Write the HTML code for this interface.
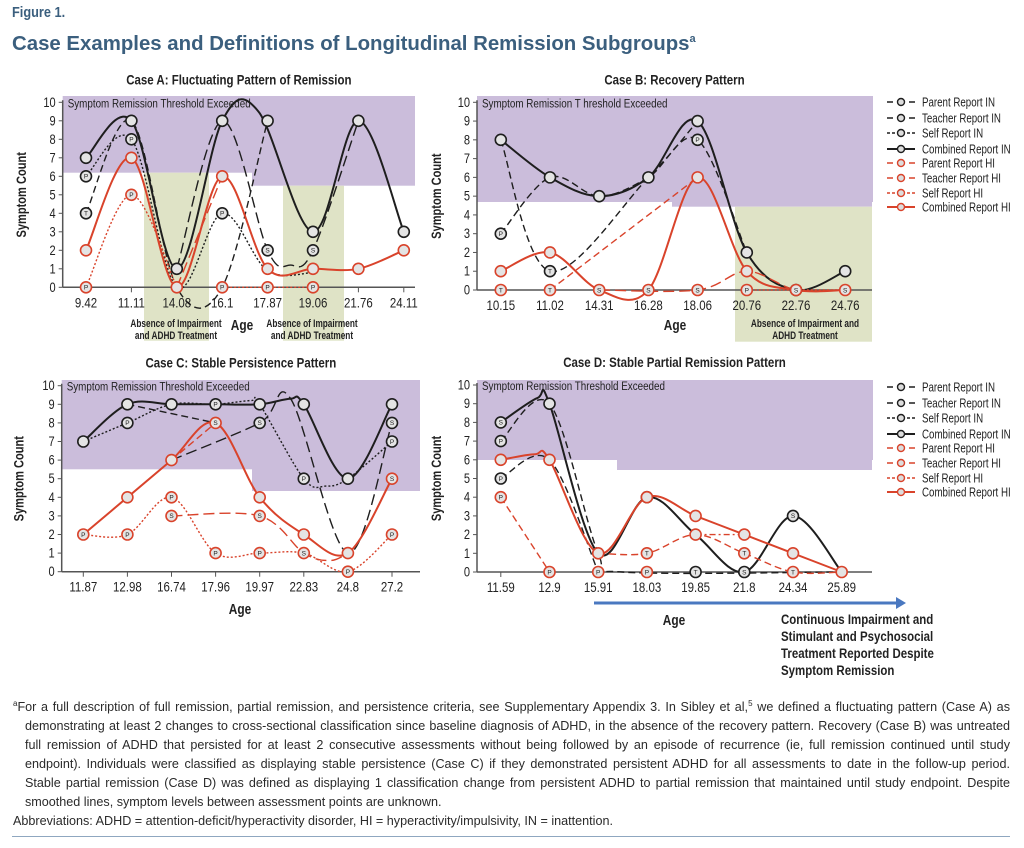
<!DOCTYPE html>
<html><head><meta charset="utf-8">
<style>
html,body{margin:0;padding:0;background:#fff;width:1024px;height:848px;overflow:hidden}
body{position:relative;font-family:"Liberation Sans",sans-serif;color:#222}
.hdr{position:absolute;left:12px;color:#3b5f7e;font-weight:bold}
#foot{position:absolute;left:13px;top:695px;width:997px;font-size:12.6px;line-height:18.9px;color:#2a2a2a}
#foot div{text-align:justify;text-align-last:justify;white-space:nowrap;overflow:visible}
#foot .in{padding-left:12px}
#foot .nl{text-align-last:left}
svg{position:absolute;left:0;top:0}
</style></head><body>
<div class="hdr" style="top:4px;font-size:15px;transform:scaleX(0.85);transform-origin:0 0">Figure 1.</div>
<div class="hdr" style="top:33px;font-size:20.4px">Case Examples and Definitions of Longitudinal Remission Subgroups<sup style="font-size:11px">a</sup></div>
<svg id="s" width="1024" height="848" xmlns="http://www.w3.org/2000/svg" font-family="Liberation Sans, sans-serif"></svg>
<div id="foot">
<div style="white-space:normal;text-align-last:justify"><sup style="font-size:8px">a</sup>For a full description of full remission, partial remission, and persistence criteria, see Supplementary Appendix 3. In Sibley et al,<sup style="font-size:8px">5</sup> we defined a fluctuating pattern (Case A) as</div>
<div class="in">demonstrating at least 2 changes to cross-sectional classification since baseline diagnosis of ADHD, in the absence of the recovery pattern. Recovery (Case B) was untreated</div>
<div class="in">full remission of ADHD that persisted for at least 2 consecutive assessments without being followed by an episode of recurrence (ie, full remission continued until study</div>
<div class="in">endpoint). Individuals were classified as displaying stable persistence (Case C) if they demonstrated persistent ADHD for all assessments to date in the follow-up period.</div>
<div class="in">Stable partial remission (Case D) was defined as displaying 1 classification change from persistent ADHD to partial remission that maintained until study endpoint. Despite</div>
<div class="in nl">smoothed lines, symptom levels between assessment points are unknown.</div>
<div class="nl">Abbreviations: ADHD = attention-deficit/hyperactivity disorder, HI = hyperactivity/impulsivity, IN = inattention.</div>
</div>
<script>
var S=document.getElementById('s'),h='';
var RED='#d9432b',BLK='#1e1e1e',PUR='#cbbddb',GRN='#dfe3c6';
function T(x,y,t,o){o=o||{};var sx=o.sx||0.82;var tr='translate('+x+' '+y+')'+(o.rot?' rotate(-90)':'')+' scale('+sx+' 1)';
 h+='<text x="0" y="0" font-size="'+(o.fs||12)+'" text-anchor="'+(o.a||'middle')+'"'+(o.b?' font-weight="bold"':'')+' transform="'+tr+'" fill="'+(o.c||'#222')+'">'+t+'</text>';}
function R(x,y,w,hh,c){h+='<rect x="'+x+'" y="'+y+'" width="'+w+'" height="'+hh+'" fill="'+c+'"/>';}
function path(pts){if(pts.length<2)return'';var d='M'+pts[0][0]+','+pts[0][1];
 for(var i=0;i<pts.length-1;i++){var p0=pts[i-1]||pts[i],p1=pts[i],p2=pts[i+1],p3=pts[i+2]||p2;
 var c1=[p1[0]+(p2[0]-p0[0])/6,p1[1]+(p2[1]-p0[1])/6],c2=[p2[0]-(p3[0]-p1[0])/6,p2[1]-(p3[1]-p1[1])/6];
 d+=' C'+c1[0].toFixed(1)+','+c1[1].toFixed(1)+' '+c2[0].toFixed(1)+','+c2[1].toFixed(1)+' '+p2[0].toFixed(1)+','+p2[1].toFixed(1);}return d;}
var DASH={solid:'',dash:'7,4',ldash:'11,5',dot:'2,2',dd:'6,3,2,3'};
function mark(x,y,c,l){h+='<circle cx="'+x+'" cy="'+y+'" r="5.5" fill="#e4e4e4" stroke="'+c+'" stroke-width="1.6"/>';if(l)T(x,y+2.3,l,{fs:6.5,c:'#222',sx:1});}
function chart(c){
 var X=function(i){return c.x0+c.dx*i},Y=function(v){return c.y0-c.u*v};
 c.bg.forEach(function(b){R(b[0],b[1],b[2],b[3],b[4]);});
 T(c.al+5,Y(10)+5,c.thr,{fs:12,a:'start'});
 h+='<line x1="'+c.al+'" y1="'+(Y(10)-2)+'" x2="'+c.al+'" y2="'+c.y0+'" stroke="#555" stroke-width="1.5"/>';
 h+='<line x1="'+c.al+'" y1="'+c.y0+'" x2="'+c.ar+'" y2="'+c.y0+'" stroke="#555" stroke-width="1.5"/>';
 for(var v=0;v<=10;v++){h+='<line x1="'+(c.al-4)+'" y1="'+Y(v)+'" x2="'+c.al+'" y2="'+Y(v)+'" stroke="#555"/>';T(c.al-7,Y(v)+4.5,v,{fs:13.5,a:'end'});}
 c.ticks.forEach(function(t,i){h+='<line x1="'+X(i)+'" y1="'+c.y0+'" x2="'+X(i)+'" y2="'+(c.y0+5)+'" stroke="#555"/>';T(X(i),c.y0+20,t,{fs:14});});
 T(c.x0-60,(Y(10)+c.y0)/2,'Symptom Count',{b:1,fs:13.5,rot:1});
 T((c.al+c.ar)/2,Y(10)-18,c.title,{b:1,fs:14});
 c.s.forEach(function(s){var pts=s.p.map(function(q){return[X(q[0]),Y(q[1])]});
  h+='<path d="'+path(pts)+'" fill="none" stroke="'+s.c+'" stroke-width="'+(s.w||1.4)+'" stroke-dasharray="'+DASH[s.d||'solid']+'"/>';});
 c.s.forEach(function(s){(s.m||[]).forEach(function(m){mark(X(m[0]),Y(m[1]),s.c,m[2]);});});
}
function legend(x,y){var items=[['Parent Report IN',BLK,'dash'],['Teacher Report IN',BLK,'dash'],['Self Report IN',BLK,'dd'],['Combined Report IN',BLK,'solid'],['Parent Report HI',RED,'dash'],['Teacher Report HI',RED,'dash'],['Self Report HI',RED,'dd'],['Combined Report HI',RED,'solid']];
 var ys=[0,16,31,47,61,76,91,105];
 items.forEach(function(it,i){var yy=y+ys[i];h+='<line x1="'+x+'" y1="'+yy+'" x2="'+(x+28)+'" y2="'+yy+'" stroke="'+it[1]+'" stroke-width="'+(it[2]=='solid'?2:1.4)+'" stroke-dasharray="'+(it[2]=='solid'?'':it[2]=='dd'?'3,2':'6,5')+'"/>';
 h+='<circle cx="'+(x+14)+'" cy="'+yy+'" r="3.5" fill="#ddd" stroke="'+it[1]+'" stroke-width="1.4"/>';T(x+35,yy+4.5,it[0],{fs:12.5,a:'start',sx:0.78});});}
chart({x0:86,dx:45.4,y0:287.3,u:18.5,al:62.7,ar:415,title:'Case A: Fluctuating Pattern of Remission',thr:'Symptom Remission Threshold Exceeded',
 ticks:['9.42','11.11','14.08','16.1','17.87','19.06','21.76','24.11'],
 bg:[[62.7,96,189.3,76.7,PUR],[252,96,163,89.7,PUR],[144,172.7,65,168,GRN],[283,185.7,61,155,GRN]],
 s:[{p:[[0,6],[1,8],[2,0],[3,4],[4,0.9],[5,0.8]],c:BLK,d:'dot',m:[[0,6,'P'],[1,8,'P'],[3,4,'P']]},
 {p:[[0,4],[1,9],[2,0],[3,0],[4,9]],c:BLK,d:'dash',m:[[0,4,'T'],[4,9]]},
 {p:[[2,1],[3,9],[4,2],[4.5,1.2],[5,2],[6,9]],c:BLK,d:'ldash',m:[[4,2,'S'],[5,2,'S']]},
 {p:[[0,7],[1,9],[2,1],[3,9],[3.8,9.5],[5,3],[6,9],[7,3]],c:BLK,w:2,m:[[0,7],[1,9],[2,1],[3,9],[5,3],[6,9],[7,3]]},
 {p:[[0,0],[1,5],[2,0]],c:RED,d:'dot'},{p:[[3,0],[4,0],[5,0]],c:RED,d:'dot',m:[[0,0,'P'],[1,5,'P'],[3,0,'P'],[4,0,'P'],[5,0,'P']]},
 {p:[[2,0],[3,6]],c:RED,d:'ldash'},
 {p:[[0,2],[1,7],[2,0],[3,6],[4,1],[5,1],[6,1],[7,2]],c:RED,w:2,m:[[0,2],[1,7],[2,0],[3,6],[4,1],[5,1],[6,1],[7,2]]}]});
T(176,327,'Absence of Impairment',{b:1,fs:11,sx:0.75});T(176,339,'and ADHD Treatment',{b:1,fs:11,sx:0.75});
T(312,327,'Absence of Impairment',{b:1,fs:11,sx:0.75});T(312,339,'and ADHD Treatment',{b:1,fs:11,sx:0.75});
T(242,330,'Age',{b:1,fs:14.5});
chart({x0:500.8,dx:49.2,y0:290,u:18.77,al:477,ar:872,title:'Case B: Recovery Pattern',thr:'Symptom Remission T hreshold Exceeded',
 ticks:['10.15','11.02','14.31','16.28','18.06','20.76','22.76','24.76'],
 bg:[[477,96,396,106,PUR],[672,196,200,10.7,PUR],[735,206.7,137,135,GRN]],
 s:[{p:[[0,3],[1,6],[2,5],[3,6],[4,8],[5,2]],c:BLK,d:'dash',m:[[0,3,'P'],[4,8,'P']]},
 {p:[[0,8],[1,1],[3,6],[4,9]],c:BLK,d:'dash',m:[[1,1,'T']]},
 {p:[[0,8],[1,6],[2,5],[3,6],[4,9],[5,2],[6,0],[7,1]],c:BLK,w:2,m:[[0,8],[1,6],[2,5],[3,6],[4,9],[5,2],[6,0],[7,1]]},
 {p:[[1,0],[4,6]],c:RED,d:'dash',m:[[0,0,'T'],[1,0,'T']]},
 {p:[[2,0],[4,0],[5,1],[6,0],[7,0]],c:RED,d:'ldash',m:[[2,0,'S'],[3,0,'S'],[4,0,'S'],[6,0,'S'],[7,0,'S']]},
 {p:[[5,0],[7,0]],c:RED,d:'dot',m:[[5,0,'P']]},
 {p:[[0,1],[1,2],[2,0],[3,0],[4,6],[5,1],[6,0],[7,0]],c:RED,w:2,m:[[0,1],[1,2],[4,6],[5,1]]}]});
T(805,327,'Absence of Impairment and',{b:1,fs:11,sx:0.75});T(805,339,'ADHD Treatment',{b:1,fs:11,sx:0.75});
T(675,330,'Age',{b:1,fs:14.5});
legend(887,102);
chart({x0:83.3,dx:44.1,y0:571.7,u:18.6,al:61.7,ar:420,title:'Case C: Stable Persistence Pattern',thr:'Symptom Remission Threshold Exceeded',
 ticks:['11.87','12.98','16.74','17.96','19.97','22.83','24.8','27.2'],
 bg:[[61.7,380,190.6,89.3,PUR],[252,380,168,111,PUR]],
 s:[{p:[[0,7],[1,8],[2,9],[3,9],[3.8,9.2],[4,9],[5,5],[5.5,4.6],[6,5],[7,7]],c:BLK,d:'dot',m:[[1,8,'P'],[3,9,'P'],[5,5,'P'],[7,7,'P']]},
 {p:[[1,9],[3,8]],c:BLK,d:'dash'},
 {p:[[2,6],[4,8],[4.7,9.3],[6,1],[7,8]],c:BLK,d:'ldash',m:[[4,8,'S'],[7,8,'S']]},
 {p:[[0,7],[1,9],[2,9],[3,9],[4,9],[4.7,9.3],[5,9],[6,5],[7,9]],c:BLK,w:2,m:[[0,7],[1,9],[2,9],[4,9],[5,9],[6,5],[7,9]]},
 {p:[[0,2],[1,2],[2,4],[3,1],[4,1],[5,1],[6,0],[7,2]],c:RED,d:'dot',m:[[0,2,'P'],[1,2,'P'],[2,4,'P'],[3,1,'P'],[4,1,'P'],[6,0,'P'],[7,2,'P']]},
 {p:[[2,3],[4,3],[5,1],[5.6,0.6],[6,1]],c:RED,d:'ldash',m:[[2,3,'S'],[4,3,'S'],[5,1,'S']]},
 {p:[[2,6],[3,8]],c:RED,d:'dash'},
 {p:[[0,2],[1,4],[2,6],[3,8],[4,4],[5,2],[6,1],[7,5]],c:RED,w:2,m:[[1,4],[2,6],[3,8,'S'],[4,4],[5,2],[6,1],[7,5,'S']]}]});
T(240,614,'Age',{b:1,fs:14.5});
chart({x0:500.8,dx:48.7,y0:572,u:18.7,al:477,ar:872,title:'Case D: Stable Partial Remission Pattern',thr:'Symptom Remission Threshold Exceeded',
 ticks:['11.59','12.9','15.91','18.03','19.85','21.8','24.34','25.89'],
 bg:[[477,380,396,80,PUR],[617,380,255,90,PUR]],
 s:[{p:[[0,7],[1,9],[2,1],[2.5,0],[7,0]],c:BLK,d:'dash',m:[[0,7,'P']]},
 {p:[[0,5],[1,6],[2,0]],c:BLK,d:'dash',m:[[0,5,'P']]},
 {p:[[0,8],[0.75,9.3],[1,9],[2,1],[3,4],[4,2],[5,0],[6,3],[7,0]],c:BLK,w:2,m:[[0,8,'S'],[1,9],[3,4],[4,0,'T'],[5,0,'S'],[6,3,'S']]},
 {p:[[0,4],[1,0]],c:RED,d:'dash',m:[[0,4,'P'],[1,0,'P'],[2,0,'P'],[3,0,'P']]},
 {p:[[2,1],[3,1],[4,2],[5,1],[6,0],[7,0]],c:RED,d:'dash',m:[[3,1,'T'],[5,1,'T'],[6,0,'T']]},
 {p:[[4,2],[5,2]],c:RED,d:'dd'},
 {p:[[0,6],[0.7,6.3],[1,6],[2,1],[3,4],[4,3],[5,2],[6,1],[7,0]],c:RED,w:2,m:[[0,6],[1,6],[2,1],[3,4],[4,3],[4,2],[5,2],[6,1],[7,0]]}]});
legend(887,387);
h+='<line x1="594" y1="603" x2="898" y2="603" stroke="#4a78c0" stroke-width="3"/><polygon points="896,597 906,603 896,609" fill="#4a78c0"/>';
T(674,625,'Age',{b:1,fs:14.5});
['Continuous Impairment and','Stimulant and Psychosocial','Treatment Reported Despite','Symptom Remission'].forEach(function(t,i){T(781,624+i*17,t,{b:1,fs:13.5,a:'start',sx:0.85});});
S.innerHTML=h;
</script>
<div style="position:absolute;left:12px;top:836px;width:998px;height:1px;background:#8fa7c0"></div>
</body></html>
